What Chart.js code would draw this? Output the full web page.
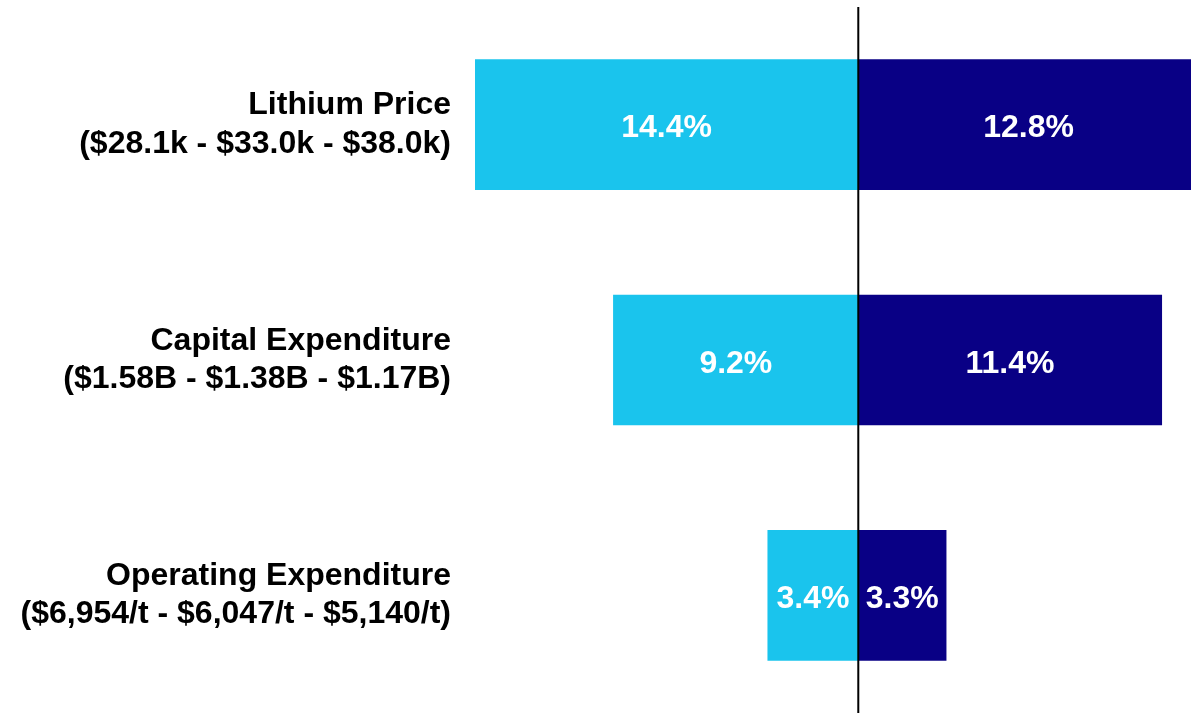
<!DOCTYPE html>
<html>
<head>
<meta charset="utf-8">
<script src="https://cdn.jsdelivr.net/npm/chart.js@4/dist/chart.umd.min.js"></script>
<style>
  html, body { margin: 0; padding: 0; background: #fff; }
  #wrap { width: 1191px; height: 713px; }
</style>
</head>
<body>
<div id="wrap"><canvas id="tornado"></canvas></div>
<script>
// Categorias (dos lineas cada una)
const categorias = [
  ["Lithium Price", "($28.1k - $33.0k - $38.0k)"],
  ["Capital Expenditure", "($1.58B - $1.38B - $1.17B)"],
  ["Operating Expenditure", "($6,954/t - $6,047/t - $5,140/t)"]
];
// Lado izquierdo (negativo) y derecho
const bajaValores = [14.4, 9.2, 3.4];
const altaValores = [12.8, 11.4, 3.3];

const fuente = "'Liberation Sans', Arial, sans-serif";

// Linea vertical en cero
const lineaCero = {
  id: 'lineaCero',
  afterDatasetsDraw(chart) {
    const { ctx, chartArea, scales } = chart;
    const x = scales.x.getPixelForValue(0);
    ctx.save();
    ctx.strokeStyle = '#000';
    ctx.lineWidth = 2;
    ctx.beginPath();
    ctx.moveTo(x, chartArea.top);
    ctx.lineTo(x, chart.height);
    ctx.stroke();
    ctx.restore();
  }
};

// Etiquetas dentro de las barras
const etiquetas = {
  id: 'etiquetas',
  afterDatasetsDraw(chart) {
    const { ctx, scales } = chart;
    ctx.save();
    ctx.fillStyle = '#fff';
    ctx.font = 'bold 32px ' + fuente;
    ctx.textAlign = 'center';
    ctx.textBaseline = 'middle';
    chart.data.datasets.forEach((ds, i) => {
      chart.getDatasetMeta(i).data.forEach((bar, j) => {
        const v = Math.abs(ds.data[j]);
        const x0 = scales.x.getPixelForValue(0);
        const x1 = scales.x.getPixelForValue(ds.data[j]);
        ctx.fillText(v.toFixed(1) + '%', (x0 + x1) / 2, bar.y + 4);
      });
    });
    ctx.restore();
  }
};

new Chart(document.getElementById('tornado'), {
  type: 'bar',
  data: {
    labels: categorias,
    datasets: [{
      label: 'Baja',
      data: bajaValores.map(v => -v),
      backgroundColor: '#1AC4ED',
      barThickness: 130
    }, {
      label: 'Alta',
      data: altaValores,
      backgroundColor: '#090085',
      barThickness: 130
    }]
  },
  options: {
    indexAxis: 'y',
    responsive: true,
    maintainAspectRatio: false,
    animation: false,
    layout: { padding: { top: 7, bottom: 0, left: 0, right: 0 } },
    plugins: {
      legend: { display: false },
      tooltip: { enabled: false }
    },
    scales: {
      x: {
        display: false,
        stacked: true,
        min: -14.4,
        max: 12.5
      },
      y: {
        stacked: true,
        grid: { display: false },
        border: { display: false },
        afterFit(scale) {
          scale.width = 475;
          scale.paddingTop = 0;
          scale.paddingBottom = 0;
        },
        ticks: {
          color: '#000',
          padding: 16,
          font: { family: fuente, size: 32, weight: 'bold', lineHeight: 1.2 }
        }
      }
    }
  },
  plugins: [lineaCero, etiquetas]
});
</script>
</body>
</html>
